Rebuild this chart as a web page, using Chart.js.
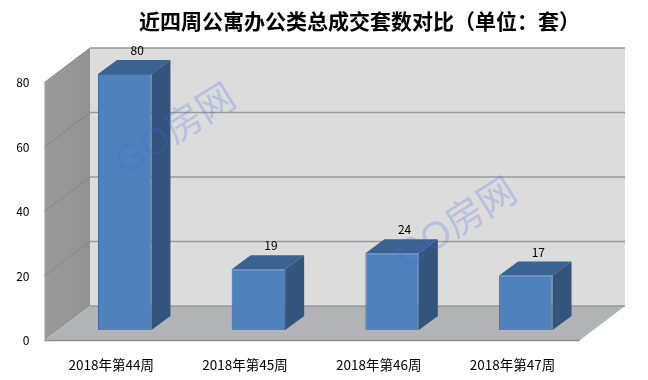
<!DOCTYPE html>
<html lang="zh">
<head>
  <meta charset="UTF-8">
  <title>近四周公寓办公类总成交套数对比</title>
  <script src="https://cdn.jsdelivr.net/npm/chart.js"></script>
  <style>
    body { margin: 0; background: #fff; }
    canvas { display: block; }
  </style>
</head>
<body>
  <canvas id="weekChart" width="648" height="380"></canvas>

  <script>
    const titleText = '近四周公寓办公类总成交套数对比（单位：套）';
    const categories = ['2018年第44周', '2018年第45周', '2018年第46周', '2018年第47周'];
    const weekIndex = [0, 1, 2, 3];
    const deals = [80, 19, 24, 17];
    const yTicks = [0, 20, 40, 60, 80];
    const watermark = 'GO房网';

    const cjk = '"Noto Sans CJK SC", "Noto Sans", sans-serif';
    const wallDepth = { x: 45.5, y: 34.5 };
    const barDepth = { x: 19, y: 14 };

    function face(ctx, pts, fill) {
      ctx.beginPath();
      pts.forEach((p, i) => i ? ctx.lineTo(p[0], p[1]) : ctx.moveTo(p[0], p[1]));
      ctx.closePath();
      ctx.fillStyle = fill;
      ctx.fill();
    }

    function line(ctx, x1, y1, x2, y2, color, width) {
      ctx.beginPath();
      ctx.moveTo(x1, y1);
      ctx.lineTo(x2, y2);
      ctx.strokeStyle = color;
      ctx.lineWidth = width;
      ctx.stroke();
    }

    // walls, floor and the 3d sides of the bars
    const box3d = {
      id: 'box3d',
      beforeDatasetsDraw(chart) {
        const { ctx, chartArea: a, scales } = chart;
        const y = scales.y;
        const left = a.left, right = a.right;
        const front = right - wallDepth.x;
        const y0 = y.getPixelForValue(yTicks[0]);
        const yTop = y.getPixelForValue(yTicks[yTicks.length - 1]);
        const backX = left + wallDepth.x;

        ctx.save();
        face(ctx, [[backX, yTop - wallDepth.y], [right, yTop - wallDepth.y], [right, y0 - wallDepth.y], [backX, y0 - wallDepth.y]], '#dcdcdc');
        const wall = ctx.createLinearGradient(left, 0, backX, 0);
        wall.addColorStop(0, '#9a9a9a');
        wall.addColorStop(1, '#929292');
        face(ctx, [[left, yTop], [backX, yTop - wallDepth.y], [backX, y0 - wallDepth.y], [left, y0]], wall);
        face(ctx, [[left, y0], [backX, y0 - wallDepth.y], [right, y0 - wallDepth.y], [front, y0]], '#b1b3b7');

        yTicks.forEach(v => {
          const py = y.getPixelForValue(v);
          if (v > 0) line(ctx, left, py, backX, py - wallDepth.y, '#858585', 1);
          line(ctx, backX, py - wallDepth.y, right, py - wallDepth.y, '#9a9a9a', 1.5);
        });
        line(ctx, left, y0, front, y0, '#8e8e8e', 1.5);

        chart.getDatasetMeta(0).data.forEach(bar => {
          const l = bar.x - bar.width / 2, r = bar.x + bar.width / 2;
          face(ctx, [[l, bar.y], [l + barDepth.x, bar.y - barDepth.y], [r + barDepth.x, bar.y - barDepth.y], [r, bar.y]], '#3a6391');
          face(ctx, [[r, bar.y], [r + barDepth.x, bar.y - barDepth.y], [r + barDepth.x, bar.base - barDepth.y], [r, bar.base]], '#33547c');
        });
        ctx.restore();
      },
      afterDatasetsDraw(chart) {
        const { ctx } = chart;
        ctx.save();
        ctx.fillStyle = '#000';
        ctx.font = '12px ' + cjk;
        ctx.textAlign = 'center';
        ctx.textBaseline = 'middle';
        chart.getDatasetMeta(0).data.forEach((bar, i) => {
          ctx.fillText(deals[i], bar.x + 12.5, bar.y - barDepth.y - 9.5);
        });

        // watermark over the bars
        [[176, 131], [457, 225]].forEach(pos => {
          ctx.save();
          ctx.translate(pos[0], pos[1]);
          ctx.rotate(-32 * Math.PI / 180);
          ctx.fillStyle = 'rgba(65, 105, 230, 0.24)';
          ctx.font = '38px "Liberation Sans", ' + cjk;
          ctx.fillText(watermark, 0, 0);
          ctx.restore();
        });
        ctx.restore();
      }
    };

    // title sits right of the canvas centre in the reference
    const titleShift = {
      id: 'titleShift',
      afterLayout(chart) {
        chart.titleBlock.left += 47;
        chart.titleBlock.right += 47;
      }
    };

    new Chart(document.getElementById('weekChart'), {
      type: 'bar',
      data: {
        labels: categories,
        datasets: [{
          label: '成交套数',
          data: weekIndex.map((w, i) => ({ x: w, y: deals[i] })),
          xAxisID: 'xBar',
          yAxisID: 'yBar',
          backgroundColor: '#4f81bd',
          borderColor: '#3f6c9f',
          borderWidth: 1,
          barPercentage: 0.4,
          categoryPercentage: 1
        }]
      },
      options: {
        responsive: false,
        animation: false,
        layout: { padding: { left: 0, right: 23, top: 0, bottom: 0 } },
        plugins: {
          legend: { display: false },
          tooltip: { enabled: false },
          title: {
            display: true,
            text: titleText,
            color: '#000',
            font: { family: '"Noto Sans CJK TC", ' + cjk, size: 21, weight: 'bold', lineHeight: 1.2 },
            padding: { top: 8.4, bottom: 14.9 }
          }
        },
        scales: {
          // front plane of the box: tick labels live here
          x: {
            type: 'linear',
            offset: false,
            min: -0.5,
            max: 3.842,
            grid: { display: false },
            border: { display: false },
            afterBuildTicks: s => { s.ticks = weekIndex.map(value => ({ value })); },
            afterFit: s => { s.height = 39.5; },
            ticks: {
              color: '#000',
              font: { family: cjk, size: 13.5 },
              maxRotation: 0,
              autoSkip: false,
              padding: 8,
              callback: v => categories[v]
            }
          },
          y: {
            min: 0,
            max: 90.54,
            grid: { display: false },
            border: { display: false },
            afterBuildTicks: s => { s.ticks = yTicks.map(value => ({ value })); },
            afterFit: s => { s.width = 44.5; },
            ticks: { color: '#000', font: { family: cjk, size: 12 }, padding: 7 }
          },
          // bars stand a little inside the box, so they get their own scales
          xBar: {
            type: 'linear',
            display: false,
            offset: false,
            min: -0.6,
            max: 3.742,
            afterBuildTicks: s => { s.ticks = weekIndex.map(value => ({ value })); }
          },
          yBar: { type: 'linear', display: false, min: -3.28, max: 87.97 }
        }
      },
      plugins: [box3d, titleShift]
    });
  </script>
</body>
</html>
